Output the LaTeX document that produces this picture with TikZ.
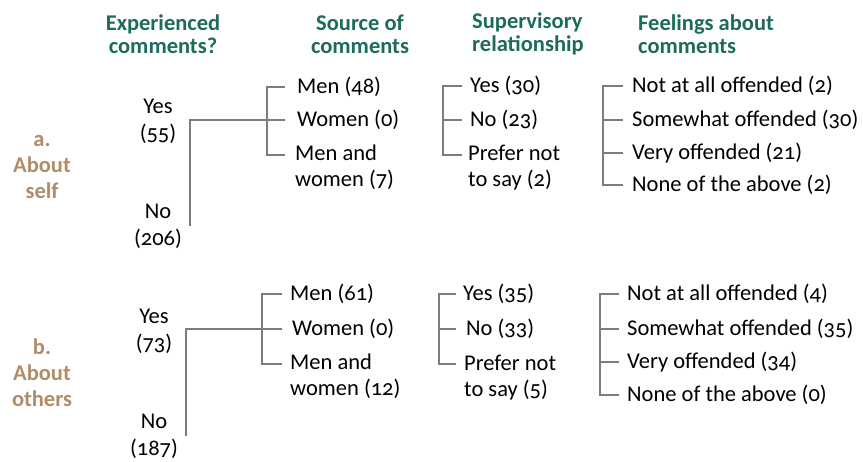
\documentclass[tikz,border=0pt]{standalone}
\usepackage{fontspec}
\setmainfont{Carlito}[Numbers=OldStyle]
\definecolor{hdcol}{HTML}{1D6B5B}
\definecolor{labcol}{HTML}{B08D68}
\definecolor{lncol}{HTML}{7D7D7D}
\begin{document}
\begin{tikzpicture}[x=1pt,y=-1pt,
  every node/.style={inner sep=0pt, font=\fontsize{22.5}{27}\selectfont},
  hd/.style={font=\fontsize{22.5}{23}\selectfont\bfseries, text=hdcol},
  sec/.style={font=\fontsize{22.5}{26}\selectfont\bfseries, text=labcol, align=center},
  ans/.style={align=center},
  item/.style={anchor=west, align=left, font=\fontsize{22.5}{26}\selectfont},
  ln/.style={draw=lncol, line width=2pt}]
\useasboundingbox (0,0) rectangle (863,462);

% headers
\node[hd, align=center] (h1) at (163,34) {Experienced\\comments?};
\node[hd, align=center] (h2) at (360,34) {Source of\\comments};
\node[hd, align=left, anchor=west] (h3) at (472,34) {Supervisory\\relationship};
\node[hd, align=left, anchor=west] (h4) at (638,34) {Feelings about\\comments};

% section labels
\node[sec] (aL) at (42,167) {a.\\About\\self};
\node[sec] (bL) at (42,373) {b.\\About\\others};

% answers
\node[ans] (aY) at (158,121) {Yes\\(55)};
\node[ans] (aN) at (158,226) {No\\(206)};
\node[ans] (bY) at (154,331) {Yes\\(73)};
\node[ans] (bN) at (154,436) {No\\(187)};

% section a items
\node[item] (aS1) at (297,87) {Men (48)};
\node[item] (aS2) at (297,120) {Women (0)};
\node[item] (aS3) at (295,167) {Men and\\women (7)};
\node[item] (aR1) at (470,86) {Yes (30)};
\node[item] (aR2) at (470,120) {No (23)};
\node[item] (aR3) at (468,168) {Prefer not\\to say (2)};
\node[item] (aF1) at (632,86) {Not at all offended (2)};
\node[item] (aF2) at (632,120) {Somewhat offended (30)};
\node[item] (aF3) at (632,153) {Very offended (21)};
\node[item] (aF4) at (632,185) {None of the above (2)};

% section b items
\node[item] (bS1) at (290,294) {Men (61)};
\node[item] (bS2) at (292,329) {Women (0)};
\node[item] (bS3) at (290,376) {Men and\\women (12)};
\node[item] (bR1) at (463,294) {Yes (35)};
\node[item] (bR2) at (466,329) {No (33)};
\node[item] (bR3) at (464,378) {Prefer not\\to say (5)};
\node[item] (bF1) at (627,294) {Not at all offended (4)};
\node[item] (bF2) at (627,329) {Somewhat offended (35)};
\node[item] (bF3) at (627,362) {Very offended (34)};
\node[item] (bF4) at (627,395) {None of the above (0)};

% ---- connectors, section a
\coordinate (aJ) at (190,120);
\coordinate (aSx) at (285,0);
\coordinate (aSp) at (267,0);
\coordinate (aS3t) at (285,155);
\draw[ln] (aJ |- aN.center) -- (aJ) -- (aSx |- aS2.west);
\draw[ln] (aSx |- aS1.west) -| (aSp |- aS3t) -- (aS3t);

\coordinate (aRx) at (462,0);
\coordinate (aRp) at (443,0);
\coordinate (aR3t) at (462,155);
\draw[ln] (aRx |- aR1.west) -| (aRp |- aR3t) -- (aR3t);
\draw[ln] (aRp |- aR2.west) -- (aRx |- aR2.west);

\coordinate (aFx) at (623,0);
\coordinate (aFp) at (603,0);
\draw[ln] (aFx |- aF1.west) -| (aFp |- aF4.west) -- (aFx |- aF4.west);
\draw[ln] (aFp |- aF2.west) -- (aFx |- aF2.west);
\draw[ln] (aFp |- aF3.west) -- (aFx |- aF3.west);

% ---- connectors, section b
\coordinate (bJ) at (186,329);
\coordinate (bSx) at (282,0);
\coordinate (bSp) at (262,0);
\coordinate (bS3t) at (282,364);
\draw[ln] (bJ |- bN.center) -- (bJ) -- (bSx |- bS2.west);
\draw[ln] (bSx |- bS1.west) -| (bSp |- bS3t) -- (bS3t);

\coordinate (bRx) at (456,0);
\coordinate (bRp) at (439,0);
\coordinate (bR3t) at (456,364);
\draw[ln] (bRx |- bR1.west) -| (bRp |- bR3t) -- (bR3t);
\draw[ln] (bRp |- bR2.west) -- (bRx |- bR2.west);

\coordinate (bFx) at (619,0);
\coordinate (bFp) at (600,0);
\draw[ln] (bFx |- bF1.west) -| (bFp |- bF4.west) -- (bFx |- bF4.west);
\draw[ln] (bFp |- bF2.west) -- (bFx |- bF2.west);
\draw[ln] (bFp |- bF3.west) -- (bFx |- bF3.west);
\end{tikzpicture}
\end{document}
